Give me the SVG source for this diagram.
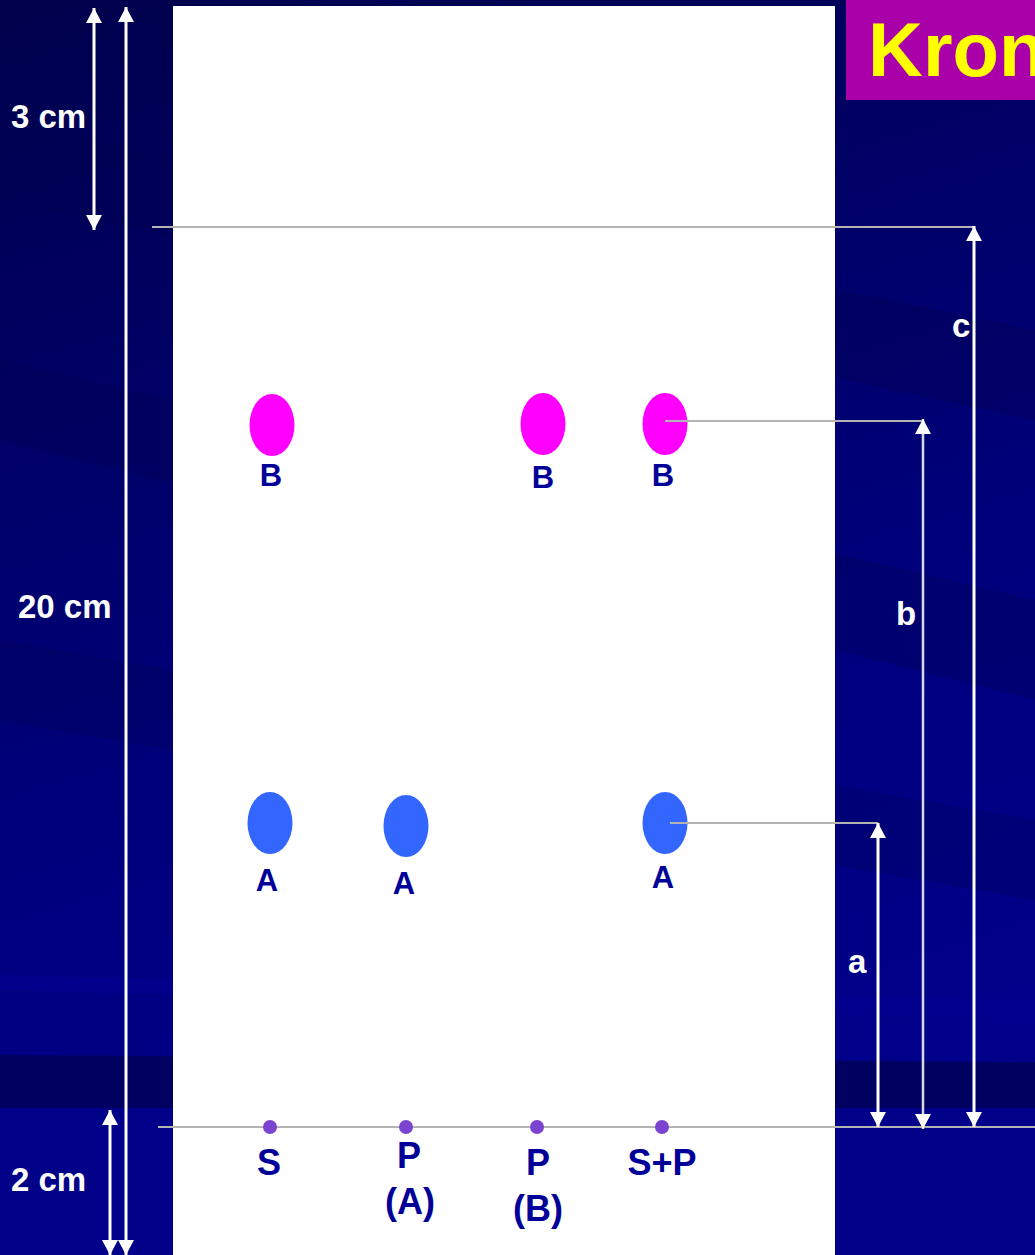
<svg xmlns="http://www.w3.org/2000/svg" width="1035" height="1255" viewBox="0 0 1035 1255">
<defs>
<linearGradient id="bg" x1="0" y1="0" x2="0.25" y2="1">
<stop offset="0" stop-color="#00004c"/>
<stop offset="0.35" stop-color="#000068"/>
<stop offset="0.7" stop-color="#000080"/>
<stop offset="1" stop-color="#00008a"/>
</linearGradient>
<marker id="arw" viewBox="0 0 15 16" refX="15" refY="8" markerWidth="15" markerHeight="16" markerUnits="userSpaceOnUse" orient="auto-start-reverse">
<path d="M0,0 L15,8 L0,16 Z" fill="#ffffff"/>
</marker>
<style>
.lbl{font-family:"Liberation Sans",Arial,sans-serif;font-weight:bold;fill:#000099;text-anchor:middle}
.wl{font-family:"Liberation Sans",Arial,sans-serif;font-weight:bold;fill:#ffffff}
.dim{stroke:#ffffff;stroke-width:3;fill:none;marker-start:url(#arw);marker-end:url(#arw)}
.gry{stroke:#b4b4b4;stroke-width:2;fill:none}
.spB{fill:#ff00ff}
.spA{fill:#3366ff}
.dot{fill:#7b44d0}
</style>
</defs>
<g id="background">
<rect x="0" y="0" width="1035" height="1255" fill="url(#bg)"/>
<polygon points="0,120 1035,330 1035,420 0,200" fill="#000050" opacity="0.35"/>
<polygon points="0,360 1035,600 1035,700 0,440" fill="#000050" opacity="0.3"/>
<polygon points="0,640 1035,820 1035,900 0,720" fill="#000050" opacity="0.25"/>
<polygon points="0,975 1035,1000 1035,1020 0,990" fill="#000090" opacity="0.6"/>
<polygon points="0,1055 1035,1062 1035,1108 0,1108" fill="#000060"/>
<rect x="0" y="1108" width="1035" height="147" fill="#000088"/>
</g>
<g id="paper">
<rect x="173" y="6" width="662" height="1249" fill="#ffffff"/>
</g>
<g id="title">
<rect x="846" y="0" width="189" height="100" fill="#aa00aa"/>
<text x="868" y="76" font-family="Liberation Sans,Arial,sans-serif" font-weight="bold" font-size="76" fill="#ffff00">Kron</text>
</g>
<g id="spot-B1"><ellipse class="spB" cx="272" cy="425" rx="22.5" ry="31"/><text class="lbl" x="271" y="486" font-size="31">B</text></g>
<g id="spot-B2"><ellipse class="spB" cx="543" cy="424" rx="22.5" ry="31"/><text class="lbl" x="543" y="488" font-size="31">B</text></g>
<g id="spot-B3"><ellipse class="spB" cx="665" cy="424" rx="22.5" ry="31"/><text class="lbl" x="663" y="486" font-size="31">B</text></g>
<g id="spot-A1"><ellipse class="spA" cx="270" cy="823" rx="22.5" ry="31"/><text class="lbl" x="267" y="891" font-size="31">A</text></g>
<g id="spot-A2"><ellipse class="spA" cx="406" cy="826" rx="22.5" ry="31"/><text class="lbl" x="404" y="894" font-size="31">A</text></g>
<g id="spot-A3"><ellipse class="spA" cx="665" cy="823" rx="22.5" ry="31"/><text class="lbl" x="663" y="888" font-size="31">A</text></g>
<g id="connectors">
<line class="gry" x1="152" y1="227" x2="974" y2="227"/>
<line class="gry" x1="665" y1="421" x2="923" y2="421"/>
<line class="gry" x1="670" y1="823" x2="878" y2="823"/>
<line class="gry" x1="158" y1="1127" x2="1035" y2="1127"/>
<line class="dim" x1="94" y1="8" x2="94" y2="230"/>
<line class="dim" x1="126" y1="7" x2="126" y2="1255"/>
<line class="dim" x1="110" y1="1110" x2="110" y2="1255"/>
<line class="dim" x1="974" y1="226" x2="974" y2="1127"/>
<line class="dim" x1="923" y1="419" x2="923" y2="1129" style="stroke:#d8d8e4;stroke-width:2.5"/>
<line class="dim" x1="878" y1="823" x2="878" y2="1127"/>
</g>
<g id="dim-labels">
<text class="wl" x="11" y="128" font-size="33">3 cm</text>
<text class="wl" x="18" y="618" font-size="33">20 cm</text>
<text class="wl" x="11" y="1191" font-size="33">2 cm</text>
<text class="wl" x="952" y="337" font-size="33">c</text>
<text class="wl" x="896" y="625" font-size="33">b</text>
<text class="wl" x="848" y="973" font-size="33">a</text>
</g>
<g id="start-S"><circle class="dot" cx="270" cy="1127" r="7"/><text class="lbl" x="269" y="1175" font-size="36">S</text></g>
<g id="start-PA"><circle class="dot" cx="406" cy="1127" r="7"/><text class="lbl" x="409" y="1168" font-size="36">P</text><text class="lbl" x="410" y="1214" font-size="36">(A)</text></g>
<g id="start-PB"><circle class="dot" cx="537" cy="1127" r="7"/><text class="lbl" x="538" y="1175" font-size="36">P</text><text class="lbl" x="538" y="1221" font-size="36">(B)</text></g>
<g id="start-SP"><circle class="dot" cx="662" cy="1127" r="7"/><text class="lbl" x="662" y="1175" font-size="36">S+P</text></g>
</svg>
